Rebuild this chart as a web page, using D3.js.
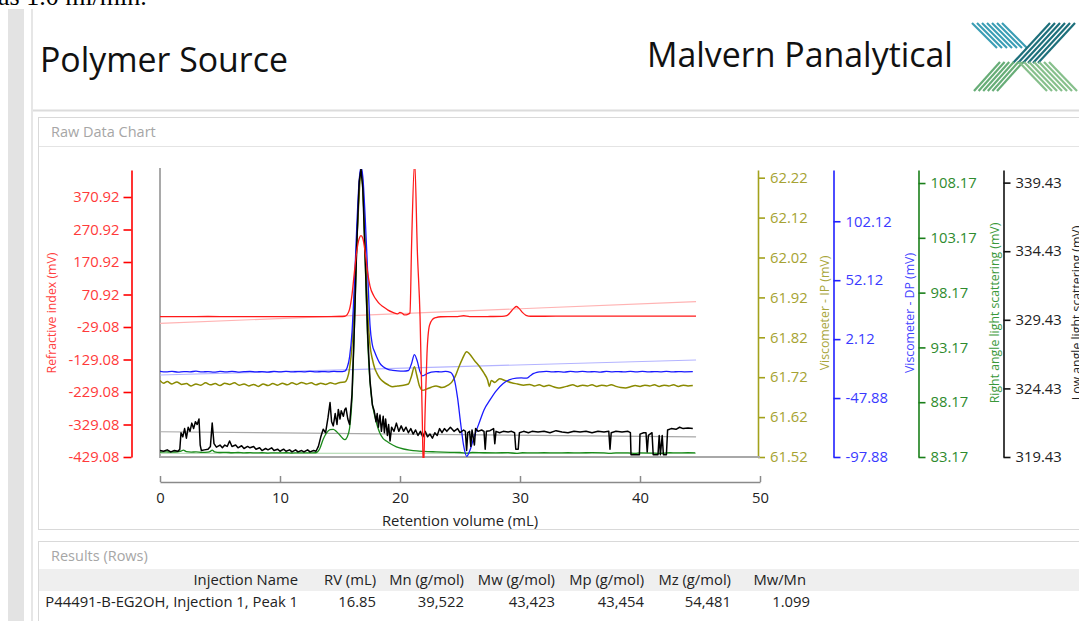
<!DOCTYPE html>
<html><head><meta charset="utf-8">
<script src="https://cdn.jsdelivr.net/npm/d3@7"></script>
<style>
html,body{margin:0;padding:0;background:#fff;overflow:hidden}
svg{display:block;font-family:"Open Sans","Noto Sans",sans-serif}
</style></head><body>
<svg id="c" width="1079" height="621"></svg>
<script>
// ---------- data ----------
const xTicks = [0, 10, 20, 30, 40, 50];
const riTicks = [-429.08, -329.08, -229.08, -129.08, -29.08, 70.92, 170.92, 270.92, 370.92];
const ipTicks = [61.52, 61.62, 61.72, 61.82, 61.92, 62.02, 62.12, 62.22];
const dpTicks = [-97.88, -47.88, 2.12, 52.12, 102.12];
const ralsTicks = [83.17, 88.17, 93.17, 98.17, 103.17, 108.17];
const lalsTicks = [319.43, 324.43, 329.43, 334.43, 339.43];

const axisTitles = ["Refractive index (mV)", "Viscometer - IP (mV)", "Viscometer - DP (mV)",
  "Right angle light scattering (mV)", "Low angle light scattering (mV)"];

// Refractive index (mV) vs retention volume (mL)
const riSignal = [[0,3],[2,3],[4,3.2],[6,3],[8,3.1],[10,3],[12,3],[14,3.1],[15,3.2],[15.4,4],[15.6,9],[15.8,26],
 [16.0,70],[16.2,140],[16.4,205],[16.6,243],[16.75,252],[16.9,244],[17.1,200],[17.3,140],[17.5,97],[17.8,68],
 [18.06,53],[18.3,42],[18.6,33],[19.0,23],[19.4,16],[19.8,11],[20.0,16],[20.15,14],[20.4,8],[20.65,10],[20.83,14],
 [20.97,230],[21.22,480],[21.45,200],[21.67,3],[21.85,-300],[21.95,-470],[22.1,-280],[22.25,-110],[22.45,-25],
 [22.7,-6],[23.0,0],[23.4,2.5],[24,3],[24.8,3],[25.3,5.5],[25.8,3],[26.5,3],[27.5,3.2],[28.5,3.5],[28.9,6],
 [29.2,16],[29.5,29],[29.7,34],[29.9,29],[30.2,16],[30.5,7],[30.9,4],[32,4],[34,4.2],[36,4.2],[38,4.4],
 [40,4.5],[42,4.6],[44.67,4.6]];
const riBaseline = [[0,-18],[44.67,49]];

// Viscometer - IP (mV)
const ipSignal = [[0,61.712],[0.3,61.705],[0.6,61.709],[1.0,61.703],[1.4,61.708],[1.8,61.702],[2.2,61.704],
 [2.6,61.698],[3.0,61.703],[3.4,61.700],[3.8,61.706],[4.2,61.701],[4.6,61.704],[5.0,61.699],[5.4,61.705],
 [5.8,61.702],[6.2,61.706],[6.6,61.700],[7.0,61.703],[7.4,61.698],[7.8,61.702],[8.2,61.697],[8.6,61.703],
 [9.0,61.699],[9.4,61.704],[9.8,61.700],[10.2,61.705],[10.6,61.701],[11.0,61.706],[11.4,61.702],[11.8,61.707],
 [12.2,61.703],[12.6,61.706],[13.0,61.701],[13.4,61.705],[13.8,61.702],[14.2,61.706],[14.6,61.703],[15.0,61.707],
 [15.4,61.708],[15.6,61.716],[15.8,61.742],[16.0,61.80],[16.2,61.92],[16.4,62.06],[16.6,62.18],[16.75,62.245],
 [16.9,62.2],[17.1,62.04],[17.3,61.89],[17.5,61.80],[17.7,61.765],[17.9,61.742],[18.06,61.731],[18.3,61.718],
 [18.6,61.709],[19.0,61.701],[19.4,61.696],[19.8,61.698],[20.3,61.700],[20.7,61.703],[20.95,61.722],[21.2,61.746],
 [21.4,61.725],[21.6,61.700],[21.9,61.687],[22.2,61.690],[22.6,61.695],[23.0,61.698],[23.5,61.694],[24.0,61.700],
 [24.3,61.707],[24.6,61.722],[24.9,61.745],[25.2,61.766],[25.56,61.784],[25.8,61.778],[26.2,61.762],[26.67,61.745],
 [27.0,61.730],[27.3,61.713],[27.45,61.697],[27.6,61.712],[27.9,61.707],[28.3,61.716],[28.8,61.711],[29.3,61.706],
 [29.8,61.703],[30.3,61.700],[30.8,61.702],[31.2,61.698],[31.6,61.701],[32.0,61.697],[32.4,61.700],[32.8,61.696],
 [33.2,61.693],[33.6,61.695],[34.0,61.698],[34.4,61.701],[34.8,61.697],[35.2,61.700],[35.6,61.698],[36.0,61.701],
 [36.4,61.697],[36.8,61.700],[37.2,61.698],[37.6,61.701],[38.0,61.697],[38.4,61.694],[38.8,61.693],[39.2,61.696],
 [39.6,61.699],[40.0,61.697],[40.4,61.700],[40.8,61.698],[41.2,61.701],[41.6,61.697],[42.0,61.700],[42.4,61.698],
 [42.8,61.701],[43.2,61.697],[43.6,61.700],[44.0,61.698],[44.4,61.699]];

// Viscometer - DP (mV)
const dpSignal = [[0,-25.2],[0.5,-25.7],[1,-25.3],[1.5,-25.8],[2,-25.4],[2.5,-25.6],[3,-25.1],[3.5,-25.7],[4,-25.4],
 [4.5,-25.9],[5,-25.3],[5.5,-25.6],[6,-25.2],[6.5,-25.8],[7,-25.5],[7.5,-25.3],[8,-25.7],[8.5,-25.4],[9,-25.8],
 [9.5,-25.3],[10,-25.6],[10.5,-25.2],[11,-25.7],[11.5,-25.4],[12,-25.6],[12.5,-25.3],[13,-25.7],[13.5,-25.4],
 [14,-25.6],[14.5,-25.3],[15,-25.5],[15.4,-25],[15.6,-22],[15.8,-13],[16.0,8],[16.2,48],[16.4,98],[16.6,137],
 [16.75,148],[16.9,140],[17.1,105],[17.3,60],[17.5,14],[17.7,-3],[17.9,-9],[18.06,-13],[18.3,-18],[18.6,-21.3],
 [19.0,-23.5],[19.4,-24.3],[19.8,-24.8],[20.3,-25],[20.7,-24.5],[20.95,-19],[21.2,-11],[21.45,-17],[21.65,-25],
 [21.9,-29],[22.2,-27.5],[22.6,-25.8],[23,-25.4],[23.4,-25.7],[23.8,-25.3],[24.2,-26],[24.5,-31],[24.8,-48],
 [25.05,-69],[25.3,-88],[25.56,-97.3],[25.8,-93],[26.2,-80],[26.67,-67],[27.0,-58],[27.5,-49.5],[28.0,-42],
 [28.6,-35.5],[29.1,-32.5],[29.7,-31],[30.1,-30.8],[30.56,-31],[30.85,-29],[31.1,-27.2],[31.4,-26],[31.7,-25.6],
 [32.2,-25.3],[32.7,-25.7],[33.2,-25.4],[33.7,-25.8],[34.2,-25.3],[34.7,-25.6],[35.2,-25.2],[35.7,-25.7],
 [36.2,-25.4],[36.7,-25.8],[37.2,-25.3],[37.7,-25.6],[38.2,-25.4],[38.7,-25.7],[39.2,-25.3],[39.7,-25.6],
 [40.2,-25.2],[40.7,-25.7],[41.2,-25.4],[41.7,-25.6],[42.2,-25.3],[42.7,-25.7],[43.2,-25.4],[43.7,-25.6],[44.4,-25.5]];
const dpBaseline = [[0,-28.3],[44.67,-15.6]];

// Right angle light scattering (mV)
const ralsSignal = [[0,83.62],[0.5,83.64],[1.0,83.61],[1.5,83.65],[1.8,83.72],[1.95,83.8],[2.2,83.66],[2.6,83.62],
 [3.0,83.63],[3.5,83.6],[4.0,83.62],[4.2,83.68],[4.35,83.8],[4.55,83.64],[5.0,83.58],[5.5,83.6],[6.0,83.56],
 [6.5,83.58],[7.0,83.55],[7.5,83.57],[8.0,83.54],[8.5,83.56],[9.0,83.53],[9.5,83.55],[10.0,83.54],[10.5,83.56],
 [11.0,83.53],[11.5,83.55],[12.0,83.54],[12.5,83.55],[13.0,83.56],[13.3,83.9],[13.6,84.8],[13.9,85.4],
 [14.17,85.67],[14.44,85.7],[14.7,85.5],[15.0,85.15],[15.2,84.9],[15.4,84.75],[15.6,85.0],[15.8,85.8],[16.0,88.5],
 [16.2,95],[16.4,102.5],[16.6,107.7],[16.75,109.4],[16.9,108],[17.1,101],[17.3,94],[17.5,90],[17.7,88],
 [17.9,86.9],[18.06,86.2],[18.3,85.4],[18.6,84.85],[18.9,84.6],[19.17,84.4],[19.7,84.1],[20.3,83.9],[20.8,83.8],
 [21.4,83.72],[22.0,83.68],[23.0,83.64],[24.2,83.6],[25.0,83.58],[25.6,83.52],[26.0,83.58],[27.0,83.56],
 [28.0,83.55],[29.0,83.57],[29.7,83.5],[30.2,83.56],[31.0,83.55],[32.0,83.56],[33.0,83.54],[34.0,83.56],
 [35.0,83.55],[36.0,83.57],[37.0,83.54],[37.5,83.5],[38.0,83.55],[39.0,83.54],[39.6,83.5],[40.0,83.55],
 [41.0,83.53],[41.6,83.5],[42.0,83.52],[42.5,83.56],[43.0,83.55],[44.0,83.56],[44.6,83.55]];
const ralsBaseline = [[0,83.51],[44.67,83.51]];

// Low angle light scattering (mV)
const lalsSignal = [[0,319.9],[0.3,319.85],[0.6,319.95],[0.9,319.8],[1.2,319.9],[1.5,319.85],[1.65,320.0],
 [1.75,321.2],[1.9,320.9],[2.05,321.5],[2.2,320.8],[2.35,321.6],[2.5,321.3],[2.65,321.9],[2.8,321.5],[2.95,322.0],
 [3.1,321.8],[3.25,322.2],[3.35,320.3],[3.45,319.9],[3.7,319.95],[4.0,320.0],[4.2,320.2],[4.35,321.9],[4.5,320.4],
 [4.7,320.15],[5.0,320.3],[5.2,320.1],[5.4,320.3],[5.6,320.2],[5.8,320.6],[6.0,320.2],[6.3,320.3],[6.5,320.1],
 [6.8,320.25],[7.0,320.05],[7.3,320.2],[7.5,320.1],[7.8,320.2],[8.0,320.0],[8.3,320.1],[8.5,319.9],[8.8,320.05],
 [9.0,319.95],[9.3,320.1],[9.5,319.9],[9.8,320.0],[10.0,319.85],[10.3,320.0],[10.5,319.85],[10.8,319.95],
 [11.0,319.8],[11.3,319.95],[11.5,319.8],[11.8,319.9],[12.0,319.8],[12.3,319.95],[12.5,319.8],[12.8,319.9],
 [13.0,319.85],[13.2,320.2],[13.4,320.9],[13.6,321.45],[13.8,321.2],[14.0,322.3],[14.17,323.4],
 [14.3,322.0],[14.44,321.7],[14.6,322.6],[14.75,321.8],[14.86,322.9],[15.0,322.2],[15.1,322.8],[15.28,322.4],
 [15.4,322.9],[15.5,323.0],[15.65,322.2],[15.8,321.8],[16.0,324],[16.2,329],[16.4,335],[16.6,339.5],[16.75,340.4],
 [16.9,339],[17.1,334],[17.3,328.5],[17.5,325],[17.7,323.2],[17.85,322.8],[18.0,322.0],[18.1,322.6],[18.2,321.6],
 [18.33,322.5],[18.45,321.3],[18.6,322.4],[18.7,321.2],[18.8,322.2],[18.95,321.0],[19.05,321.8],[19.17,320.6],
 [19.3,321.6],[19.5,321.3],[19.7,321.9],[19.9,321.3],[20.1,321.7],[20.3,321.3],[20.5,321.6],[20.7,321.2],
 [20.9,321.5],[21.1,321.1],[21.3,321.4],[21.5,321.0],[21.7,321.3],[21.9,320.9],[22.1,321.3],[22.3,320.9],
 [22.5,321.1],[22.7,320.8],[22.9,321.2],[23.1,321.0],[23.3,321.5],[23.5,321.2],[23.7,321.5],[23.9,321.3],
 [24.2,321.6],[24.5,321.3],[24.8,321.5],[25.0,321.2],[25.3,321.4],[25.45,321.3],[25.55,319.9],[25.65,321.2],
 [25.8,321.3],[25.9,320.2],[26.0,321.4],[26.2,320.3],[26.3,321.5],[26.5,321.3],[26.8,321.4],[27.0,321.3],
 [27.1,320.0],[27.2,321.3],[27.5,321.35],[27.8,321.5],[27.9,320.4],[28.0,321.3],[28.3,321.2],[28.6,321.3],
 [29.0,321.25],[29.3,321.3],[29.55,321.2],[29.65,320.0],[29.85,320.0],[29.95,321.2],[30.3,321.3],[30.7,321.2],
 [31.0,321.3],[31.5,321.25],[32.0,321.3],[32.5,321.2],[33.0,321.35],[33.5,321.25],[34.0,321.2],[34.5,321.3],
 [35.0,321.25],[35.5,321.3],[36.0,321.2],[36.5,321.3],[37.0,321.25],[37.4,321.3],[37.5,320.0],[37.6,321.2],
 [38.0,321.3],[38.5,321.25],[39.0,321.3],[39.2,321.2],[39.25,319.6],[39.6,319.6],[39.95,319.6],[40.0,321.1],
 [40.3,321.2],[40.5,321.2],[40.6,319.8],[40.7,321.0],[41.0,321.2],[41.1,319.6],[41.5,319.6],[41.6,321.0],
 [41.7,319.6],[41.85,321.0],[41.95,319.6],[42.2,319.6],[42.3,321.4],[42.6,321.5],[43.0,321.45],[43.3,321.6],
 [43.6,321.5],[44.0,321.55],[44.4,321.5]];
const lalsBaseline = [[0,321.27],[44.67,320.89]];

const tableHeaders = ["Injection Name", "RV (mL)", "Mn (g/mol)", "Mw (g/mol)", "Mp (g/mol)", "Mz (g/mol)", "Mw/Mn"];
const tableRow = ["P44491-B-EG2OH, Injection 1, Peak 1", "16.85", "39,522", "43,423", "43,454", "54,481", "1.099"];

// ---------- drawing ----------
const svg = d3.select("#c");
const FONT = '"Open Sans","Noto Sans",sans-serif';
const FS = 14.8;

// page chrome
svg.append("text").attr("x", -2).attr("y", 5).attr("font-family", '"Liberation Serif","DejaVu Serif",serif')
  .attr("font-size", 26).attr("fill", "#000").text("as 1.0 ml/min.");
svg.append("rect").attr("x", 8).attr("y", 9).attr("width", 16).attr("height", 612).attr("fill", "#e3e3e3");
svg.append("rect").attr("x", 31).attr("y", 9).attr("width", 2).attr("height", 612).attr("fill", "#e6e6e6");
svg.append("line").attr("x1", 33).attr("x2", 1079).attr("y1", 110.5).attr("y2", 110.5).attr("stroke", "#dcdcdc").attr("stroke-width", 2);

function fitText(sel, w) {
  const l = sel.node().getComputedTextLength();
  const fs = parseFloat(sel.attr("font-size"));
  sel.attr("font-size", fs * w / l);
}
fitText(svg.append("text").attr("x", 40).attr("y", 72).attr("font-size", 32).attr("fill", "#111").text("Polymer Source"), 248);
fitText(svg.append("text").attr("x", 647).attr("y", 67).attr("font-size", 32).attr("fill", "#111").text("Malvern Panalytical"), 306);

// logo (decorative stripes)
const logoArms = [
  {c: "#3a9db4", x0: 972, y0: 23, dx: 25, dy: 25, n: 7, step: 5},
  {c: "#1d6f7b", x0: 1050, y0: 23, dx: -37, dy: 40, n: 6, step: 5},
  {c: "#67ad77", x0: 1000, y0: 62, dx: -26, dy: 29, n: 6, step: 4.6},
  {c: "#86bf8b", x0: 1019, y0: 62, dx: 28, dy: 29, n: 7, step: 5}
];
logoArms.forEach(a => {
  d3.range(a.n).forEach(k => {
    svg.append("line").attr("x1", a.x0 + k * a.step).attr("y1", a.y0)
      .attr("x2", a.x0 + k * a.step + a.dx).attr("y2", a.y0 + a.dy)
      .attr("stroke", a.c).attr("stroke-width", 2.2);
  });
});

// panels
svg.append("rect").attr("x", 38.5).attr("y", 117.5).attr("width", 1100).attr("height", 412)
  .attr("fill", "none").attr("stroke", "#d9d9d9");
svg.append("line").attr("x1", 39).attr("x2", 1079).attr("y1", 146.5).attr("y2", 146.5).attr("stroke", "#e4e4e4");
svg.append("text").attr("x", 51).attr("y", 137).attr("font-size", 14.5).attr("fill", "#a6a6a6").text("Raw Data Chart");

svg.append("rect").attr("x", 38.5).attr("y", 541.5).attr("width", 1100).attr("height", 100)
  .attr("fill", "none").attr("stroke", "#d9d9d9");
svg.append("text").attr("x", 51).attr("y", 561).attr("font-size", 14.5).attr("fill", "#a6a6a6").text("Results (Rows)");
svg.append("rect").attr("x", 39).attr("y", 569).attr("width", 1040).attr("height", 22).attr("fill", "#efefef");

const headRight = [298, 376, 464, 555, 644, 731, 806];
const valRight = [298, 376, 464, 555, 644, 731, 810];
tableHeaders.forEach((h, i) => svg.append("text").attr("x", headRight[i]).attr("y", 585)
  .attr("text-anchor", "end").attr("font-size", FS).attr("fill", "#222").text(h));
tableRow.forEach((v, i) => svg.append("text").attr("x", valRight[i]).attr("y", 607)
  .attr("text-anchor", "end").attr("font-size", FS).attr("fill", "#222").text(v));

// scales
const TOP = 170, BOT = 457;
const x = d3.scaleLinear().domain([0, 50]).range([160, 760]);
const yRI = d3.scaleLinear().domain([-429.08, 454]).range([BOT, TOP]);
const yIP = d3.scaleLinear().domain([61.52, 62.2393]).range([BOT, TOP]);
const yDP = d3.scaleLinear().domain([-97.88, 145.6]).range([BOT, TOP]);
const yRALS = d3.scaleLinear().domain([83.17, 109.36]).range([BOT, TOP]);
const yLALS = d3.scaleLinear().domain([319.43, 340.35]).range([BOT, TOP]);

// x axis
const gx = svg.append("g").attr("transform", "translate(0,482)")
  .call(d3.axisBottom(x).tickValues(xTicks).tickSizeInner(-6).tickSizeOuter(0).tickPadding(10));
gx.select(".domain").attr("stroke", "#8a8a8a").attr("stroke-width", 1.5);
gx.selectAll(".tick line").attr("stroke", "#8a8a8a").attr("stroke-width", 1.5);
gx.selectAll("text").attr("font-family", FONT).attr("font-size", FS).attr("fill", "#222");
svg.append("text").attr("x", 460).attr("y", 526).attr("text-anchor", "middle").attr("font-size", FS)
  .attr("fill", "#222").text("Retention volume (mL)");

// y axes
function styleAxis(g, lineC, textC) {
  g.select(".domain").attr("stroke", lineC).attr("stroke-width", 1.6);
  g.selectAll(".tick line").attr("stroke", lineC).attr("stroke-width", 1.6);
  g.selectAll("text").attr("font-family", FONT).attr("font-size", FS).attr("fill", textC);
}
const f2 = d => d.toFixed(2);
styleAxis(svg.append("g").attr("transform", "translate(131.5,0)")
  .call(d3.axisLeft(yRI).tickValues(riTicks).tickFormat(f2).tickSizeInner(8).tickSizeOuter(0).tickPadding(4)), "#ff0000", "#ff3a3a");
const rightAxes = [
  {x: 758, s: yIP, t: ipTicks, lc: "#a3a11c", tc: "#a6a332"},
  {x: 833.5, s: yDP, t: dpTicks, lc: "#2020ff", tc: "#3a3aff"},
  {x: 918.5, s: yRALS, t: ralsTicks, lc: "#1a7f1a", tc: "#2e8b2e"},
  {x: 1003.5, s: yLALS, t: lalsTicks, lc: "#111", tc: "#222"}
];
rightAxes.forEach(a => styleAxis(svg.append("g").attr("transform", `translate(${a.x},0)`)
  .call(d3.axisRight(a.s).tickValues(a.t).tickFormat(f2).tickSizeInner(7).tickSizeOuter(0).tickPadding(5)), a.lc, a.tc));

const titlePos = [
  {x: 52, c: "#ff4040"}, {x: 825, c: "#a8a53a"}, {x: 910, c: "#4545ff"}, {x: 995, c: "#3a983a"}, {x: 1077, c: "#222"}
];
axisTitles.forEach((t, i) => svg.append("text")
  .attr("transform", `translate(${titlePos[i].x},313) rotate(-90)`).attr("dy", "0.35em")
  .attr("text-anchor", "middle").attr("font-size", 12.3).attr("fill", titlePos[i].c).text(t));

// plot frame
svg.append("line").attr("x1", 160).attr("x2", 160).attr("y1", 168).attr("y2", 457.5).attr("stroke", "#a0a0a0").attr("stroke-width", 1.8);
svg.append("line").attr("x1", 159).attr("x2", 760).attr("y1", 457).attr("y2", 457).attr("stroke", "#a8a8a8").attr("stroke-width", 1.8);

// clip
svg.append("clipPath").attr("id", "plotclip").append("rect").attr("x", 160).attr("y", 169).attr("width", 600).attr("height", 289);
const plot = svg.append("g").attr("clip-path", "url(#plotclip)");

function drawLine(data, ys, color, w, curve) {
  plot.append("path").datum(data).attr("fill", "none").attr("stroke", color).attr("stroke-width", w)
    .attr("stroke-linejoin", "round")
    .attr("d", d3.line().x(d => x(d[0])).y(d => ys(d[1])).curve(curve || d3.curveMonotoneX));
}
// baselines
drawLine(riBaseline, yRI, "#ffb3b3", 1.2, d3.curveLinear);
drawLine(dpBaseline, yDP, "#b3b3ff", 1.2, d3.curveLinear);
drawLine(lalsBaseline, yLALS, "#a8a8a8", 1.2, d3.curveLinear);
drawLine(ralsBaseline, yRALS, "#a6d4a6", 1.2, d3.curveLinear);
// signals
drawLine(ralsSignal, yRALS, "#1b8a1b", 1.3);
drawLine(ipSignal, yIP, "#8a8a00", 1.5);
drawLine(dpSignal, yDP, "#1a1aff", 1.3);
drawLine(lalsSignal, yLALS, "#000", 1.5, d3.curveLinear);
drawLine(riSignal, yRI, "#ff1a1a", 1.3);
</script>
</body></html>
